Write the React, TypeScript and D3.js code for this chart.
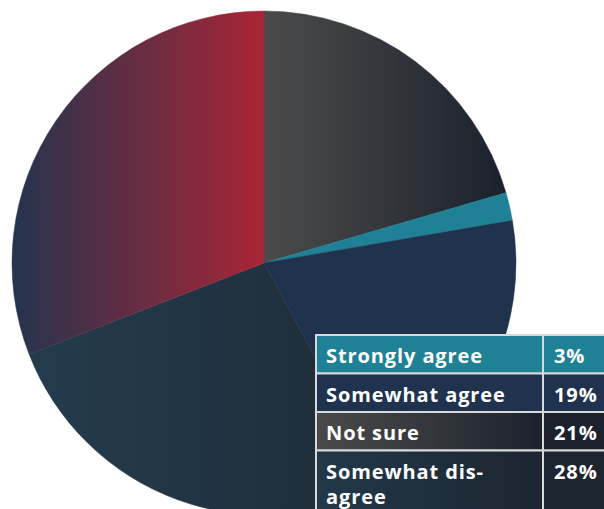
import React from "react";
import * as d3 from "d3";

// Pie slices, clockwise from 12 o'clock
const sliceNames = ["Not sure", "Strongly agree", "Somewhat agree", "Somewhat disagree", "Strongly disagree"];
const sliceValues = [20.5, 1.8, 19.8, 27.0, 30.9];
const sliceColors: [string, string][] = [
  ["#4b4b4b", "#1b212c"],
  ["#1e8195", "#1e8195"],
  ["#1f324e", "#1f324e"],
  ["#243c4e", "#1e2b37"],
  ["#24344f", "#a92535"],
];

// Legend table
const tableLabels: string[][] = [["Strongly agree"], ["Somewhat agree"], ["Not sure"], ["Somewhat dis-", "agree"]];
const tablePercents = ["3%", "19%", "21%", "28%"];
const tableColors: [string, string][] = [
  ["#1e8195", "#1e8195"],
  ["#1f324e", "#1f324e"],
  ["#4a4a4a", "#1c222d"],
  ["#22394a", "#1c2530"],
];

const W = 604, H = 509;
const cx = 264, cy = 263, R = 252;

export default function App() {
  const pie = d3.pie<number>().sort(null).value((d) => d).startAngle(0).endAngle(2 * Math.PI);
  const arcs = pie(sliceValues);
  const arc = d3.arc<d3.PieArcDatum<number>>().innerRadius(0).outerRadius(R);

  const rowTops = [335, 373.5, 412, 450.5];
  const rowBottoms = [373.5, 412, 450.5, 530];
  const x0 = 316, x1 = 543, x2 = 610;

  return (
    <svg width={W} height={H} style={{ position: "absolute", left: 0, top: 0, display: "block" }}>
      <defs>
        {sliceColors.map((c, i) => (
          <linearGradient key={i} id={`sg${i}`} x1="0" y1="0" x2="1" y2="0">
            <stop offset="0%" stopColor={c[0]} />
            <stop offset="100%" stopColor={c[1]} />
          </linearGradient>
        ))}
        {tableColors.map((c, i) => (
          <linearGradient key={i} id={`tg${i}`} x1="0" y1="0" x2="1" y2="0">
            <stop offset="0%" stopColor={c[0]} />
            <stop offset="100%" stopColor={c[1]} />
          </linearGradient>
        ))}
      </defs>
      <g transform={`translate(${cx},${cy})`}>
        {arcs.map((a, i) => (
          <path key={sliceNames[i]} d={arc(a) || ""} fill={`url(#sg${i})`} stroke={`url(#sg${i})`} strokeWidth={0.5} />
        ))}
      </g>
      <g fontFamily="'Open Sans', sans-serif" fontWeight={700} fontSize={20} letterSpacing={0.9} fill="#ffffff">
        {tableLabels.map((lines, i) => (
          <g key={i}>
            <rect x={x0} y={rowTops[i]} width={x1 - x0} height={rowBottoms[i] - rowTops[i]} fill={`url(#tg${i})`} stroke="#d9d9d9" strokeWidth={2} />
            <rect x={x1} y={rowTops[i]} width={x2 - x1} height={rowBottoms[i] - rowTops[i]} fill={i >= 2 ? tableColors[i][1] : tableColors[i][0]} stroke="#d9d9d9" strokeWidth={2} />
            {lines.map((t, j) => (
              <text key={j} x={326} y={rowTops[i] + 28 + j * 25}>{t}</text>
            ))}
            <text x={554} y={rowTops[i] + 28}>{tablePercents[i]}</text>
          </g>
        ))}
      </g>
    </svg>
  );
}
